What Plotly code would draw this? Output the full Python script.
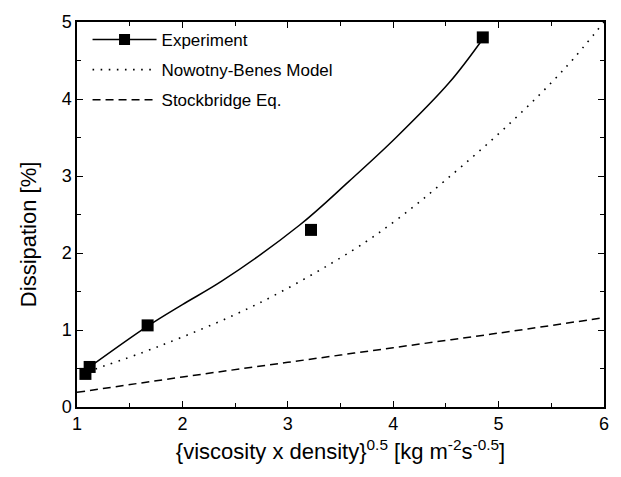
import plotly.graph_objects as go

# Experimental data points
exp_x = [1.08, 1.12, 1.67, 3.22, 4.85]
exp_y = [0.43, 0.52, 1.06, 2.30, 4.80]

# Fit through experiment
fit_x = [1.12, 1.67, 2.00, 2.38, 3.11, 3.58, 4.02, 4.53, 4.85]
fit_y = [0.52, 1.05, 1.33, 1.64, 2.36, 2.93, 3.49, 4.21, 4.78]

# Nowotny-Benes model
nb_x = [1.10, 1.78, 2.70, 3.61, 4.05, 4.50, 5.12, 5.63, 6.00]
nb_y = [0.46, 0.79, 1.33, 2.03, 2.45, 2.95, 3.70, 4.40, 5.00]

# Stockbridge equation
sb_x = [1.0, 2.0, 3.0, 4.0, 5.0, 6.0]
sb_y = [0.19, 0.39, 0.58, 0.77, 0.96, 1.16]

font = "Liberation Sans, Arial, sans-serif"

fig = go.Figure()
fig.add_trace(go.Scatter(x=fit_x, y=fit_y, mode="lines", line=dict(color="black", width=1.5, shape="spline"),
                         showlegend=False))
fig.add_trace(go.Scatter(x=exp_x, y=exp_y, mode="markers", marker=dict(symbol="square", size=12, color="black"),
                         showlegend=False))
fig.add_trace(go.Scatter(x=[None], y=[None], mode="lines+markers", name="Experiment", legendgroup="a",
                         line=dict(color="black", width=1.5),
                         marker=dict(symbol="square", size=11, color="black")))
fig.add_trace(go.Scatter(x=nb_x, y=nb_y, mode="lines", name="Nowotny-Benes Model", legendgroup="b",
                         line=dict(color="black", width=1.6, dash="1.6px,6.5px", shape="spline")))
fig.add_trace(go.Scatter(x=sb_x, y=sb_y, mode="lines", name="Stockbridge Eq.", legendgroup="c",
                         line=dict(color="black", width=1.5, dash="8px,5px", shape="spline")))

axis_common = dict(
    showline=True, linecolor="black", linewidth=1.5, mirror="ticks",
    ticks="inside", ticklen=6, tickwidth=1.2, tickcolor="black",
    showgrid=False, zeroline=False,
    tickfont=dict(family=font, size=18, color="black"),
    minor=dict(ticks="inside", ticklen=4, tickwidth=1.2, tickcolor="black", showgrid=False),
)

fig.update_xaxes(range=[1, 6], dtick=1, minor_dtick=0.5,
                 title=dict(text="{viscosity x density}<sup>0.5</sup> [kg m<sup>-2</sup>s<sup>-0.5</sup>]",
                            font=dict(family=font, size=22, color="black"), standoff=10),
                 **axis_common)
fig.update_yaxes(range=[0, 5], dtick=1, minor_dtick=0.5, **axis_common)

fig.add_annotation(text="Dissipation [%]", textangle=-90, showarrow=False,
                   xref="paper", yref="paper", x=0, y=(407 - 231) / 392, xshift=-49,
                   xanchor="center", yanchor="middle",
                   font=dict(family=font, size=22, color="black"))

fig.update_layout(
    width=621, height=477,
    margin=dict(l=77, r=16, t=15, b=70),
    plot_bgcolor="white", paper_bgcolor="white",
    font=dict(family=font, color="black"),
    legend=dict(x=0.02, y=1.0, xanchor="left", yanchor="top", bgcolor="rgba(0,0,0,0)",
                font=dict(family=font, size=17, color="black"), itemwidth=64,
                traceorder="grouped", tracegroupgap=5),
)

fig.write_html("out.html")
